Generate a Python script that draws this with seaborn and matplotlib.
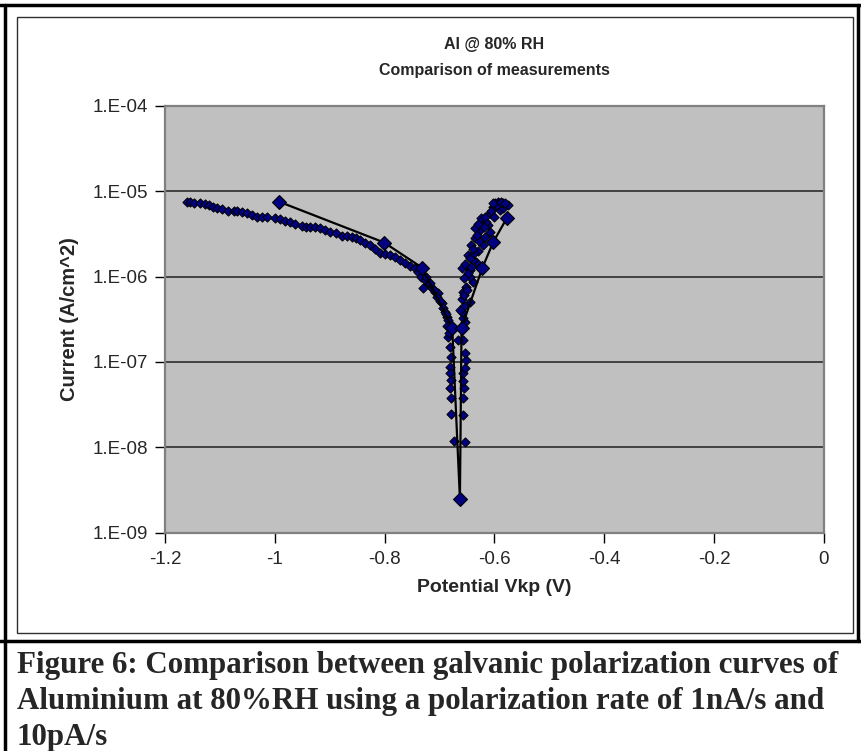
import numpy as np
import pandas as pd
import matplotlib
matplotlib.use("Agg")
import matplotlib.pyplot as plt
import seaborn as sns
from matplotlib.lines import Line2D
from matplotlib.patches import Rectangle

# 10pA/s measurement (small dots)
pot_10pA = [
    -1.160, -1.155, -1.148, -1.136, -1.127, -1.120, -1.112, -1.105, -1.097, -1.085,
    -1.075, -1.068, -1.060, -1.051, -1.042, -1.033, -1.024, -1.015, -1.000, -0.990,
    -0.981, -0.972, -0.963, -0.951, -0.943, -0.936, -0.927, -0.918, -0.909, -0.900,
    -0.889, -0.878, -0.869, -0.860, -0.852, -0.845, -0.836, -0.827, -0.818, -0.809,
    -0.800, -0.790, -0.781, -0.772, -0.763, -0.754, -0.745, -0.739, -0.733, -0.727,
    -0.730, -0.720, -0.714, -0.708, -0.702, -0.696, -0.693, -0.690, -0.687, -0.684,
    -0.684, -0.681, -0.679, -0.681, -0.681, -0.679, -0.681, -0.679, -0.679, -0.673,
    -0.725, -0.718, -0.711, -0.705, -0.699, -0.688, -0.686, -0.683,
    # right branch, bottom to top
    -0.654, -0.658, -0.658, -0.655, -0.658, -0.658, -0.654, -0.651, -0.654, -0.657,
    -0.666, -0.660, -0.654, -0.658, -0.660, -0.655, -0.645, -0.652, -0.657, -0.639,
    -0.644, -0.660, -0.645, -0.633, -0.648, -0.639, -0.630, -0.621, -0.642, -0.636,
    -0.618, -0.609, -0.627, -0.636, -0.612, -0.615, -0.624, -0.609, -0.600, -0.590,
    -0.584, -0.602, -0.593, -0.584, -0.576, -0.599,
    -0.662, -0.660, -0.656, -0.650, -0.655, -0.648, -0.654, -0.642, -0.645, -0.637,
    -0.640, -0.628, -0.632, -0.620, -0.630, -0.617, -0.606, -0.596, -0.588, -0.580,
    -0.603,
]
cur_10pA = [
    7.5e-6, 7.4e-6, 7.3e-6, 7.2e-6, 7.0e-6, 6.8e-6, 6.6e-6, 6.3e-6, 6.1e-6, 5.9e-6,
    5.9e-6, 5.9e-6, 5.7e-6, 5.5e-6, 5.25e-6, 5.0e-6, 5.0e-6, 5.0e-6, 4.8e-6, 4.65e-6,
    4.5e-6, 4.3e-6, 4.1e-6, 3.9e-6, 3.85e-6, 3.8e-6, 3.75e-6, 3.7e-6, 3.5e-6, 3.35e-6,
    3.2e-6, 3.0e-6, 2.95e-6, 2.9e-6, 2.8e-6, 2.7e-6, 2.5e-6, 2.35e-6, 2.1e-6, 1.9e-6,
    1.85e-6, 1.8e-6, 1.7e-6, 1.56e-6, 1.45e-6, 1.33e-6, 1.25e-6, 1.14e-6, 1.0e-6, 9.1e-7,
    7.3e-7, 8.2e-7, 7.3e-7, 6.6e-7, 6.35e-7, 4.85e-7, 4.3e-7, 3.87e-7, 3.4e-7, 3.1e-7,
    1.97e-7, 1.5e-7, 1.15e-7, 8.8e-8, 7.35e-8, 6.1e-8, 4.9e-8, 3.75e-8, 2.45e-8, 1.2e-8,
    1.0e-6, 8.5e-7, 7.0e-7, 5.8e-7, 5.2e-7, 3.6e-7, 2.6e-7, 2.2e-7,
    1.16e-8, 2.4e-8, 3.75e-8, 4.9e-8, 5.9e-8, 7.35e-8, 8.4e-8, 1.05e-7, 1.26e-7, 1.8e-7,
    1.8e-7, 2.47e-7, 2.96e-7, 3.3e-7, 3.87e-7, 4.5e-7, 5.07e-7, 7.5e-7, 6.6e-7, 8.7e-7,
    1.0e-6, 1.25e-6, 1.19e-6, 1.49e-6, 1.79e-6, 1.56e-6, 2.0e-6, 2.34e-6, 2.34e-6, 2.8e-6,
    2.9e-6, 3.35e-6, 3.5e-6, 3.67e-6, 4.0e-6, 4.4e-6, 4.8e-6, 5.5e-6, 5.0e-6, 6.0e-6,
    6.3e-6, 6.6e-6, 7.5e-6, 7.2e-6, 6.9e-6, 7.25e-6,
    4.0e-7, 5.5e-7, 6.0e-7, 7.0e-7, 9.5e-7, 1.1e-6, 1.4e-6, 1.3e-6, 1.65e-6, 1.9e-6,
    2.1e-6, 2.6e-6, 3.1e-6, 3.8e-6, 4.1e-6, 5.0e-6, 5.8e-6, 6.8e-6, 7.4e-6, 7.3e-6,
    7.3e-6,
]

# 1nA/s measurement (large diamonds joined by a line)
pot_1nA = [-0.992, -0.801, -0.732, -0.677, -0.663, -0.660, -0.622, -0.602, -0.577]
cur_1nA = [7.5e-6, 2.5e-6, 1.27e-6, 2.5e-7, 2.5e-9, 2.5e-7, 1.27e-6, 2.55e-6, 4.9e-6]

x_ticks = [-1.2, -1.0, -0.8, -0.6, -0.4, -0.2, 0.0]
x_tick_labels = ["-1.2", "-1", "-0.8", "-0.6", "-0.4", "-0.2", "0"]
y_ticks = [1e-9, 1e-8, 1e-7, 1e-6, 1e-5, 1e-4]
y_tick_labels = ["1.E-09", "1.E-08", "1.E-07", "1.E-06", "1.E-05", "1.E-04"]

df_slow = pd.DataFrame({"Potential": pot_10pA, "Current": cur_10pA})
df_fast = pd.DataFrame({"Potential": pot_1nA, "Current": cur_1nA})

sns.set_style("white")
plt.rcParams["font.family"] = ["Liberation Sans", "DejaVu Sans"]

fig = plt.figure(figsize=(8.62, 7.51), dpi=100)
ax = fig.add_axes([165 / 862, 1 - 532.7 / 751, (824 - 165) / 862, (532.7 - 105.7) / 751])
ax.set_facecolor("#C0C0C0")

sns.scatterplot(data=df_slow, x="Potential", y="Current", marker="D", s=22,
                color="#000080", edgecolor="black", linewidth=0.7, ax=ax, zorder=3)
sns.lineplot(data=df_fast, x="Potential", y="Current", sort=False, estimator=None,
             color="black", linewidth=1.6, marker="D", markersize=7.5,
             markerfacecolor="#000080", markeredgecolor="black", markeredgewidth=0.8,
             ax=ax, zorder=4)

ax.set_yscale("log")
ax.set_xlim(-1.2, 0)
ax.set_ylim(1e-9, 1e-4)
ax.set_xticks(x_ticks)
ax.set_xticklabels(x_tick_labels)
ax.set_yticks(y_ticks)
ax.set_yticklabels(y_tick_labels)
ax.minorticks_off()
ax.tick_params(axis="both", direction="out", length=7, width=1, color="black",
               labelsize=13.5, pad=6, bottom=True, left=True)
ax.tick_params(axis="y", pad=5)

for yv in y_ticks[1:-1]:
    ax.axhline(yv, color="#202020", linewidth=1.1, zorder=1)
for sp in ax.spines.values():
    sp.set_color("#808080")
    sp.set_linewidth(1.6)

ax.set_xlabel("Potential Vkp (V)", fontsize=14, fontweight="bold", labelpad=8)
ax.set_ylabel("Current (A/cm^2)", fontsize=14.5, fontweight="bold", labelpad=10)
ax.set_title("Al @ 80% RH\nComparison of measurements", fontsize=11.5,
             fontweight="bold", pad=22, linespacing=1.9)

# chart frame and document borders
fig.add_artist(Rectangle((17 / 862, 1 - 633 / 751), (853 - 17) / 862, (633 - 17) / 751,
                         transform=fig.transFigure, fill=False, edgecolor="#303030",
                         linewidth=1.0))
fig.add_artist(Line2D([0, 1], [1 - 5 / 751, 1 - 5 / 751], transform=fig.transFigure,
                      color="black", linewidth=2.5))
fig.add_artist(Line2D([5 / 862, 5 / 862], [0, 1 - 5 / 751], transform=fig.transFigure,
                      color="black", linewidth=2.5))
fig.add_artist(Line2D([858 / 862, 858 / 862], [1 - 641 / 751, 1 - 5 / 751],
                      transform=fig.transFigure, color="black", linewidth=2.5))
fig.add_artist(Line2D([0, 1], [1 - 641 / 751, 1 - 641 / 751], transform=fig.transFigure,
                      color="black", linewidth=2.5))

caption = [
    "Figure 6: Comparison between galvanic polarization curves of",
    "Aluminium at 80%RH using a polarization rate of 1nA/s and",
    "10pA/s",
]
for i, line in enumerate(caption):
    fig.text(17 / 862, 1 - (673 + 36 * i) / 751, line, ha="left", va="baseline",
             fontsize=22.3, fontweight="bold", family=["Liberation Serif", "DejaVu Serif"])

fig.savefig("out.png", dpi=100)
